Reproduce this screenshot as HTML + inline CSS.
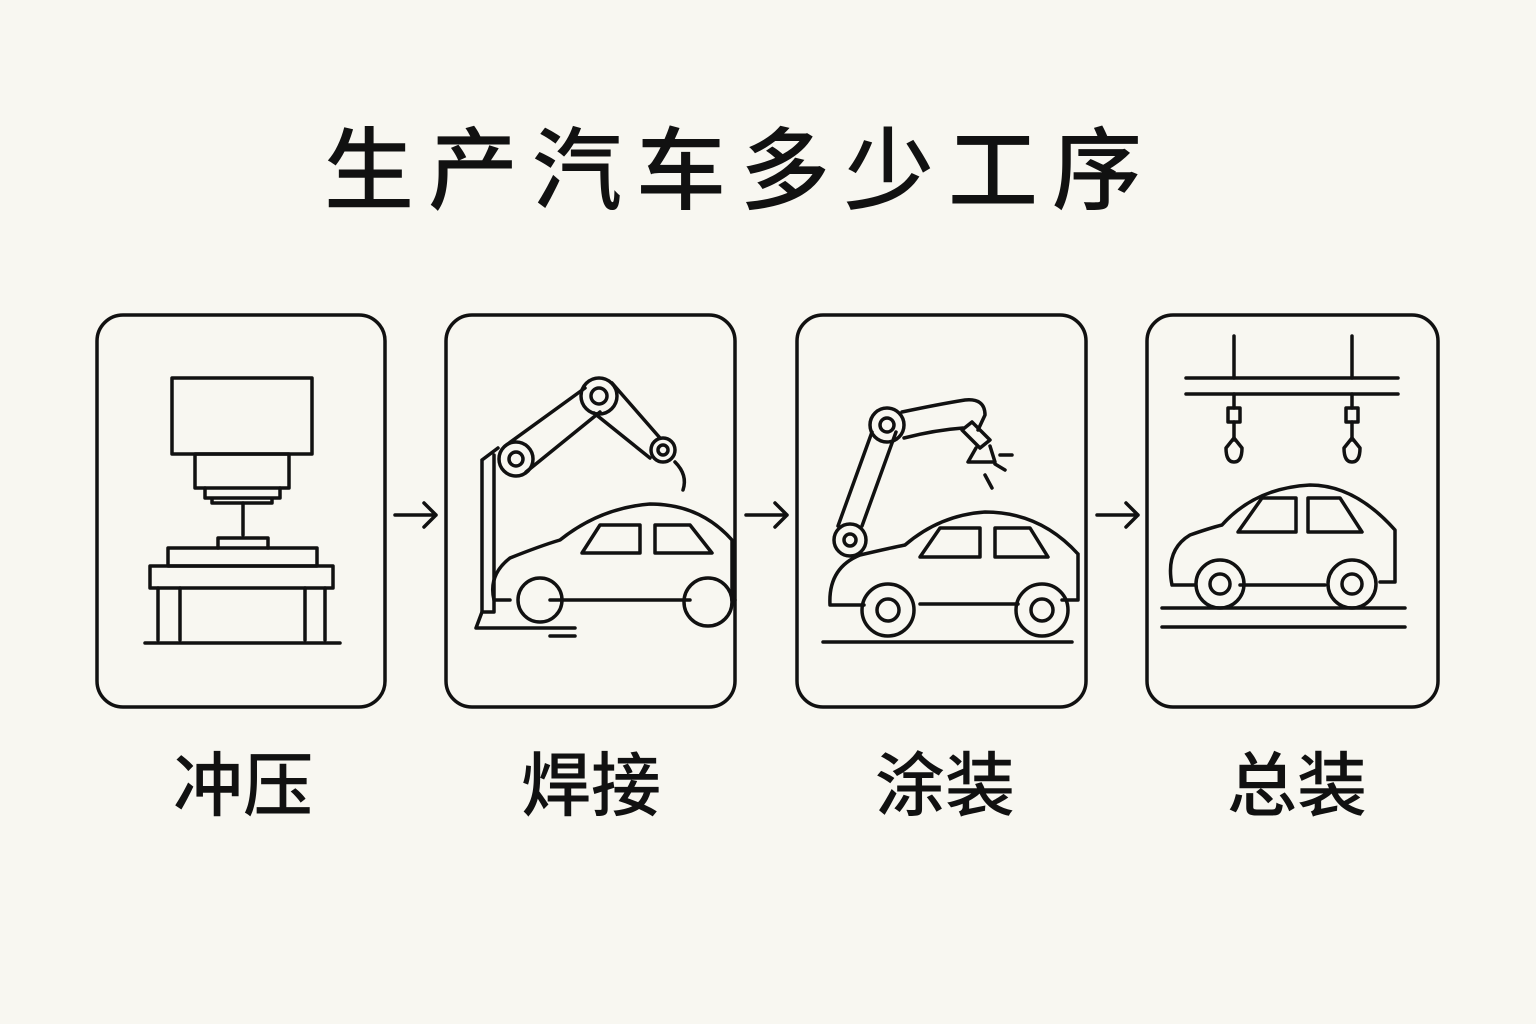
<!DOCTYPE html>
<html><head><meta charset="utf-8"><style>
html,body{margin:0;padding:0;background:#f8f7f1;}
svg{display:block}
text{font-family:"Liberation Sans","Noto Sans CJK SC",sans-serif;fill:#111;}
</style></head><body>
<svg width="1536" height="1024" viewBox="0 0 1536 1024" xmlns="http://www.w3.org/2000/svg">
<rect width="1536" height="1024" fill="#f8f7f1"/>
<text x="740" y="202" font-size="90" font-weight="500" text-anchor="middle" letter-spacing="14">生产汽车多少工序</text>
<g fill="none" stroke="#111" stroke-width="3.5" stroke-linecap="round" stroke-linejoin="round">
<rect x="97" y="315" width="288" height="392" rx="26"/>
<rect x="446" y="315" width="289" height="392" rx="26"/>
<rect x="797" y="315" width="289" height="392" rx="26"/>
<rect x="1147" y="315" width="291" height="392" rx="26"/>
<path d="M395 515H436M424 503L436 515L424 527"/>
<path d="M746 515H787M775 503L787 515L775 527"/>
<path d="M1097 515H1138M1126 503L1138 515L1126 527"/>
<rect x="172" y="378" width="140" height="76"/>
<rect x="195" y="454" width="94" height="34"/>
<path d="M205 488V498H280V488M212 498V503H272V498"/>
<path d="M243 503V535"/>
<path d="M218 548V538H268V548"/>
<rect x="168" y="548" width="149" height="18"/>
<rect x="150" y="566" width="183" height="22"/>
<path d="M158 588V640M180 588V640M305 588V640M325 588V640"/>
<path d="M145 643H340"/>
<path d="M476 628H575M476 628L482 612H494L494 455"/>
<path d="M482 612L482 460 M482 460 L498 448"/>
<circle cx="516" cy="459" r="17"/><circle cx="516" cy="459" r="7"/>
<path d="M505 446L585 388M526 472L600 412"/>
<circle cx="599" cy="396" r="18"/><circle cx="599" cy="396" r="8"/>
<path d="M612 383L660 438M594 413L650 458"/>
<circle cx="663" cy="450" r="12"/><circle cx="663" cy="450" r="5"/>
<path d="M675 462Q688 475 683 490"/>
<path d="M494 600Q488 575 510 558Q540 546 560 540Q600 508 650 504Q700 504 732 540V600H735M550 600H690M494 600H510"/>
<path d="M582 553L600 525H640V553ZM655 525H690L712 553H655Z"/>
<circle cx="540" cy="600" r="22"/><circle cx="708" cy="602" r="24"/>
<path d="M550 636H575"/>
<path d="M823 642H1072"/>
<circle cx="850" cy="540" r="16"/><circle cx="850" cy="540" r="6"/>
<path d="M838 526L872 432M862 526L896 432"/>
<circle cx="887" cy="425" r="17"/><circle cx="887" cy="425" r="7"/>
<path d="M902 412Q940 404 965 400Q985 398 985 415L978 430M904 438Q935 430 963 428"/>
<path d="M962 430L980 448L990 440L972 422Z"/>
<path d="M976 448L968 462L995 462L990 446"/>
<path d="M995 464L1005 470M985 475L992 488M1000 455L1012 455"/>
<path d="M830 605Q828 568 860 555Q890 548 905 545Q940 515 985 512Q1040 512 1078 554M1078 554V600H1062M920 604H1018M830 605H864"/>
<path d="M920 557L940 528H980V557ZM995 528H1030L1048 557H995Z"/>
<circle cx="888" cy="610" r="26"/><circle cx="888" cy="610" r="11"/>
<circle cx="1042" cy="610" r="26"/><circle cx="1042" cy="610" r="11"/>
<path d="M1186 378H1398M1186 394H1398"/>
<path d="M1234 336V378M1352 336V378M1234 394V408M1352 394V408"/>
<rect x="1228" y="408" width="12" height="14"/><rect x="1346" y="408" width="12" height="14"/>
<path d="M1234 422V440M1352 422V440"/>
<path d="M1226 448L1234 438L1242 448Q1242 462 1234 462Q1226 462 1226 448Z"/>
<path d="M1344 448L1352 438L1360 448Q1360 462 1352 462Q1344 462 1344 448Z"/>
<path d="M1172 585Q1165 550 1190 535Q1210 528 1222 525Q1255 488 1310 485Q1355 485 1395 530V582H1380M1240 585H1325M1172 585H1195"/>
<path d="M1238 532L1262 498H1296V532ZM1308 498H1340L1362 532H1308Z"/>
<circle cx="1220" cy="584" r="24"/><circle cx="1220" cy="584" r="10"/>
<circle cx="1352" cy="584" r="24"/><circle cx="1352" cy="584" r="10"/>
<path d="M1162 608H1405M1162 627H1405"/>
</g>
<g font-size="70" font-weight="500" text-anchor="middle">
<text x="243" y="810">冲压</text>
<text x="591" y="810">焊接</text>
<text x="945" y="810">涂装</text>
<text x="1297" y="810">总装</text>
</g>
</svg>
</body></html>
